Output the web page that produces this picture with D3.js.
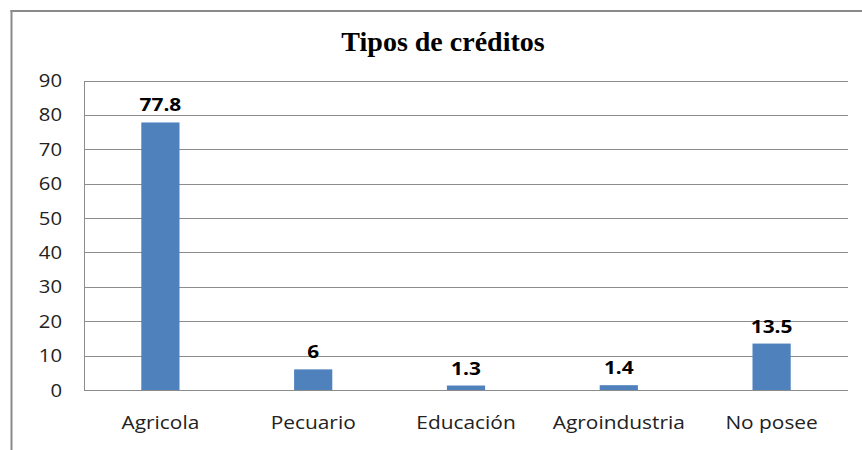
<!DOCTYPE html>
<html>
<head>
<meta charset="utf-8">
<script src="https://d3js.org/d3.v7.min.js"></script>
<style>
  body { margin: 0; background: #fff; }
  svg { display: block; }
</style>
</head>
<body>
<svg id="chart" width="862" height="450"></svg>
<script>
// data
var categories = ["Agricola", "Pecuario", "Educación", "Agroindustria", "No posee"];
var values = [77.8, 6, 1.3, 1.4, 13.5];
var valueLabels = ["77.8", "6", "1.3", "1.4", "13.5"];
var yTicks = [0, 10, 20, 30, 40, 50, 60, 70, 80, 90];
var title = "Tipos de créditos";

var svg = d3.select("#chart");
var stretch = 1.16; // the original text looks widened horizontally

var plotLeft = 84, plotRight = 848, plotTop = 80.5, plotBottom = 390;

var x = d3.scaleBand()
  .domain(categories)
  .range([plotLeft, plotRight])
  .paddingInner(0.75)
  .paddingOuter(0.375);

var y = d3.scaleLinear()
  .domain([0, 90])
  .range([plotBottom, plotTop]);

// outer chart border (only left and top show)
svg.append("line")
  .attr("x1", 11.5).attr("x2", 11.5)
  .attr("y1", 10).attr("y2", 450)
  .attr("stroke", "#8a8a8a").attr("stroke-width", 2);
svg.append("line")
  .attr("x1", 10.5).attr("x2", 862)
  .attr("y1", 11).attr("y2", 11)
  .attr("stroke", "#8a8a8a").attr("stroke-width", 2);

// title
svg.append("text")
  .attr("x", 443)
  .attr("y", 51)
  .attr("text-anchor", "middle")
  .attr("font-family", "'Liberation Serif', 'Times New Roman', serif")
  .attr("font-weight", "bold")
  .attr("font-size", 28)
  .attr("fill", "#000")
  .text(title);

// gridlines
svg.append("g")
  .selectAll("line")
  .data(yTicks)
  .join("line")
  .attr("x1", plotLeft).attr("x2", plotRight)
  .attr("y1", function(d) { return Math.round(y(d)) + 0.5; })
  .attr("y2", function(d) { return Math.round(y(d)) + 0.5; })
  .attr("stroke", "#8c8c8c")
  .attr("stroke-width", 1);

// vertical axis line
svg.append("line")
  .attr("x1", plotLeft + 0.5).attr("x2", plotLeft + 0.5)
  .attr("y1", Math.round(plotTop)).attr("y2", plotBottom + 1)
  .attr("stroke", "#8c8c8c");

// y tick labels
svg.append("g")
  .selectAll("text")
  .data(yTicks)
  .join("text")
  .attr("transform", function(d) { return "translate(62," + (y(d) + 6.5) + ") scale(" + stretch + ",1)"; })
  .attr("text-anchor", "end")
  .attr("font-family", "'Open Sans', sans-serif")
  .attr("font-size", 17.5)
  .attr("fill", "#222")
  .text(function(d) { return d; });

// bars
svg.append("g")
  .selectAll("rect")
  .data(values)
  .join("rect")
  .attr("x", function(d, i) { return x(categories[i]); })
  .attr("width", x.bandwidth())
  .attr("y", function(d) { return y(d); })
  .attr("height", function(d) { return plotBottom - y(d); })
  .attr("fill", "#4F81BD");

// value labels
svg.append("g")
  .selectAll("text")
  .data(values)
  .join("text")
  .attr("transform", function(d, i) {
    return "translate(" + (x(categories[i]) + x.bandwidth() / 2) + "," + (y(d) - 11) + ") scale(" + stretch + ",1)";
  })
  .attr("text-anchor", "middle")
  .attr("font-family", "'Open Sans', sans-serif")
  .attr("font-weight", "bold")
  .attr("font-size", 18)
  .attr("fill", "#000")
  .text(function(d, i) { return valueLabels[i]; });

// category labels
svg.append("g")
  .selectAll("text")
  .data(categories)
  .join("text")
  .attr("transform", function(d) {
    return "translate(" + (x(d) + x.bandwidth() / 2) + ",429) scale(" + stretch + ",1)";
  })
  .attr("text-anchor", "middle")
  .attr("font-family", "'Open Sans', sans-serif")
  .attr("font-size", 18)
  .attr("fill", "#222")
  .text(function(d) { return d; });
</script>
</body>
</html>
